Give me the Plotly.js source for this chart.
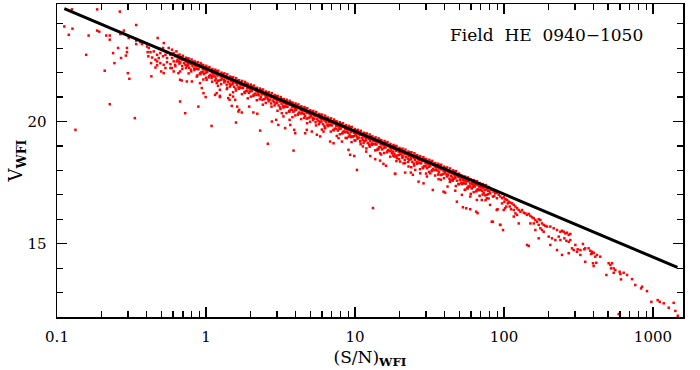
<!DOCTYPE html>
<html>
<head>
<meta charset="utf-8">
<script src="https://cdn.plot.ly/plotly-3.0.1.min.js"></script>
<style>html,body{margin:0;padding:0;background:#fff;}#chart{width:700px;height:370px;}</style>
</head>
<body>
<div id="chart"></div>
<script>
// ---- data (S/N, V magnitude) ----
const faintSN = [0.126,0.186,0.264,0.340,0.112,0.127,0.120,0.163,0.186,0.192,0.214,0.226,0.226,0.281,0.266,0.303,0.340,0.340,0.363,0.372,0.402,0.413,0.474,0.521,0.257,0.295,0.295,0.290,0.238,0.269,0.243,0.157,0.209,0.299,0.306,0.226,0.333,0.133,
  0.406,0.424,0.446,0.470,0.494,0.41,0.435,0.458,0.482,0.515,0.534,0.548,0.577,0.592,0.607,0.623,0.470,0.494,0.52,0.548,0.577,0.607,0.623,0.428,0.458,0.50,0.534,0.577,0.607,0.43,0.470,0.52,0.562,0.592,0.633,0.515,0.489,0.548];
const faintV = [24.59,24.59,24.50,23.95,23.89,23.80,23.55,23.52,23.72,23.68,23.52,23.52,23.35,23.72,23.58,23.42,23.31,23.17,23.25,23.17,23.07,23.01,23.42,23.21,23.01,23.01,22.84,22.70,22.80,22.60,22.39,22.73,22.08,21.98,21.75,20.71,20.14,19.66,
  22.84,22.84,22.87,22.73,22.80,22.67,22.62,22.53,22.60,22.67,22.73,22.60,22.73,22.60,22.80,22.67,22.46,22.39,22.32,22.43,22.35,22.46,22.26,22.39,22.21,22.05,22.19,22.19,22.05,21.85,22.30,21.98,23.01,22.94,22.87,23.01,22.98,22.83];

const bandSN = [0.65,0.658,0.644,0.663,0.68,0.688,0.673,0.694,0.72,0.729,0.713,0.734,0.75,0.759,0.743,0.765,0.78,0.789,0.772,0.796,
  0.82,0.83,0.812,0.836,0.86,0.87,0.851,0.877,0.90,0.911,0.891,0.918,0.94,0.951,0.931,0.959,0.98,0.992,0.97,1.0,
  1.03,1.042,1.02,1.05,1.08,1.093,1.069,1.10,1.13,1.144,1.119,1.153,1.18,1.194,1.168,1.204,1.24,1.255,1.228,1.265,
  1.30,1.316,1.287,1.326,1.36,1.376,1.346,1.387,1.42,1.437,1.406,1.448,1.49,1.508,1.475,1.52,1.56,1.579,1.544,1.591,
  1.63,1.65,1.614,1.663,1.71,1.731,1.693,1.744,1.79,1.811,1.772,1.826,1.87,1.892,1.851,1.907,1.96,1.984,1.94,1.999,
  2.05,2.075,2.03,2.091,2.15,2.176,2.129,2.193,2.25,2.277,2.228,2.295,2.36,2.388,2.336,2.407,2.47,2.5,2.445,2.519,
  2.58,2.611,2.554,2.632,2.70,2.732,2.673,2.754,2.83,2.864,2.802,2.887,2.96,2.996,2.93,3.019,3.10,3.137,3.069,3.162,
  3.25,3.289,3.218,3.315,3.40,3.441,3.366,3.468,3.56,3.603,3.524,3.631,3.73,3.775,3.693,3.805,3.90,3.947,3.861,3.978,
  4.08,4.129,4.039,4.162,4.27,4.321,4.227,4.355,4.47,4.524,4.425,4.559,4.68,4.736,4.633,4.774,4.90,4.959,4.851,4.998,
  5.13,5.192,5.079,5.233,5.37,5.434,5.316,5.477,5.62,5.687,5.564,5.732,5.88,5.951,5.821,5.998,6.16,6.234,6.098,6.283,
  6.45,6.527,6.386,6.579,6.75,6.831,6.683,6.885,7.07,7.155,6.999,7.211,7.40,7.489,7.326,7.548,7.75,7.843,7.673,7.905,
  8.11,8.207,8.029,8.272,8.49,8.592,8.405,8.66,8.89,8.997,8.801,9.068,9.30,9.412,9.207,9.486,9.74,9.857,9.643,9.935,
  10.2,10.32,10.1,10.4,10.7,10.83,10.59,10.91,11.2,11.33,11.09,11.42,11.7,11.84,11.58,11.93,12.3,12.45,12.18,12.55,
  12.8,12.95,12.67,13.06,13.4,13.56,13.27,13.67,14.1,14.27,13.96,14.38,14.7,14.88,14.55,14.99,15.4,15.58,15.25,15.71,
  16.2,16.39,16.04,16.52,16.9,17.1,16.73,17.24,17.7,17.91,17.52,18.05,18.6,18.82,18.41,18.97,19.4,19.63,19.21,19.79,
  20.4,20.64,20.2,20.81,21.3,21.56,21.09,21.73,22.3,22.57,22.08,22.75,23.4,23.68,23.17,23.87,24.5,24.79,24.26,24.99,
  25.6,25.91,25.34,26.11,26.8,27.12,26.53,27.34,28.1,28.44,27.82,28.66,29.4,29.75,29.11,29.99,30.8,31.17,30.49,31.42,
  32.3,32.69,31.98,32.95,33.8,34.21,33.46,34.48,35.4,35.82,35.05,36.11,37.0,37.44,36.63,37.74,38.8,39.27,38.41,39.58,
  40.6,41.09,40.19,41.41,42.5,43.01,42.08,43.35,44.5,45.03,44.06,45.39,46.6,47.16,46.13,47.53,48.8,49.39,48.31,49.78,
  51.1,51.71,50.59,52.12,53.5,54.14,52.97,54.57,56.0,56.67,55.44,57.12,58.7,59.4,58.11,59.87,61.4,62.14,60.79,62.63,
  64.3,65.07,63.66,65.59,67.3,68.11,66.63,68.65,70.5,71.35,69.8,71.91,73.8,74.69,73.06,75.28,77.3,78.23,76.53,78.85];
const bandV = [22.71,22.62,22.53,22.37,22.63,22.53,22.42,22.15,22.54,22.49,22.39,22.19,22.57,22.39,22.27,21.97,22.43,22.36,22.20,22.05,
  22.45,22.36,22.27,22.11,22.37,22.27,22.16,21.89,22.29,22.24,22.14,21.94,22.32,22.14,22.02,21.72,22.17,22.10,21.94,21.79,
  22.20,22.11,22.02,21.86,22.11,22.01,21.90,21.63,22.03,21.98,21.88,21.68,22.06,21.88,21.76,21.46,21.91,21.84,21.68,21.53,
  21.94,21.85,21.76,21.60,21.86,21.76,21.65,21.38,21.78,21.73,21.63,21.43,21.80,21.62,21.50,21.20,21.65,21.58,21.42,21.27,
  21.68,21.59,21.50,21.34,21.60,21.50,21.39,21.12,21.52,21.47,21.37,21.17,21.55,21.37,21.25,20.95,21.40,21.33,21.17,21.02,
  21.43,21.34,21.25,21.09,21.35,21.25,21.14,20.87,21.26,21.21,21.11,20.91,21.29,21.11,20.99,20.69,21.14,21.07,20.91,20.76,
  21.17,21.08,20.99,20.83,21.09,20.99,20.88,20.61,21.01,20.96,20.86,20.66,21.04,20.86,20.74,20.44,20.89,20.82,20.66,20.51,
  20.91,20.82,20.73,20.57,20.83,20.73,20.62,20.35,20.75,20.70,20.60,20.40,20.78,20.60,20.48,20.18,20.63,20.56,20.40,20.25,
  20.66,20.57,20.48,20.32,20.58,20.48,20.37,20.10,20.50,20.45,20.35,20.15,20.53,20.35,20.23,19.93,20.37,20.30,20.14,19.99,
  20.40,20.31,20.22,20.06,20.32,20.22,20.11,19.84,20.24,20.19,20.09,19.89,20.27,20.09,19.97,19.67,20.12,20.05,19.89,19.74,
  20.15,20.06,19.97,19.81,20.07,19.97,19.86,19.59,19.99,19.94,19.84,19.64,20.01,19.83,19.71,19.41,19.86,19.79,19.63,19.48,
  19.89,19.80,19.71,19.55,19.81,19.71,19.60,19.33,19.73,19.68,19.58,19.38,19.76,19.58,19.46,19.16,19.61,19.54,19.38,19.23,
  19.63,19.54,19.45,19.29,19.55,19.45,19.34,19.07,19.47,19.42,19.32,19.12,19.50,19.32,19.20,18.90,19.35,19.28,19.12,18.97,
  19.38,19.29,19.20,19.04,19.30,19.20,19.09,18.82,19.21,19.16,19.06,18.86,19.25,19.07,18.95,18.65,19.09,19.02,18.86,18.71,
  19.12,19.03,18.94,18.78,19.04,18.94,18.83,18.56,18.96,18.91,18.81,18.61,18.98,18.80,18.68,18.38,18.84,18.77,18.61,18.46,
  18.86,18.77,18.68,18.52,18.78,18.68,18.57,18.30,18.70,18.65,18.55,18.35,18.73,18.55,18.43,18.13,18.58,18.51,18.35,18.20,
  18.61,18.52,18.43,18.27,18.53,18.43,18.32,18.05,18.44,18.39,18.29,18.09,18.47,18.29,18.17,17.87,18.32,18.25,18.09,17.94,
  18.35,18.26,18.17,18.01,18.27,18.17,18.06,17.79,18.18,18.13,18.03,17.83,18.22,18.04,17.92,17.62,18.06,17.99,17.83,17.68,
  18.09,18.00,17.91,17.75,18.01,17.91,17.80,17.53,17.93,17.88,17.78,17.58,17.96,17.78,17.66,17.36,17.81,17.74,17.58,17.43,
  17.78,17.69,17.60,17.44,17.69,17.59,17.48,17.21,17.61,17.56,17.46,17.26,17.64,17.46,17.34,17.04,17.49,17.42,17.26,17.11,
  17.52,17.43,17.34,17.18,17.44,17.34,17.23,16.96,17.36,17.31,17.21,17.01,17.38,17.20,17.08,16.78,17.23,17.16,17.00,16.85];

// extra band stars between the positions above (incl. the thin fringe above the line)
const band2SN = [0.665,0.672,0.658,0.70,0.707,0.693,0.735,0.742,0.728,0.765,0.773,0.757,0.80,0.808,0.792,0.84,0.848,0.832,0.88,0.889,0.871,0.92,0.929,0.911,0.96,0.97,0.95,
  1.005,1.015,0.995,1.055,1.066,1.044,1.105,1.116,1.094,1.155,1.167,1.143,1.21,1.222,1.198,1.27,1.283,1.257,1.33,1.343,1.317,1.39,1.404,1.376,1.455,1.47,1.44,1.525,1.54,1.51,
  1.595,1.611,1.579,1.67,1.687,1.653,1.75,1.768,1.733,1.83,1.848,1.812,1.915,1.934,1.896,2.0,2.02,1.98,2.10,2.121,2.079,2.20,2.222,2.178,2.305,2.328,2.282,2.415,2.439,2.391,
  2.525,2.55,2.5,2.64,2.666,2.614,2.765,2.793,2.737,2.895,2.924,2.866,3.03,3.06,3.0,3.175,3.207,3.143,3.325,3.358,3.292,3.48,3.515,3.445,3.645,3.681,3.609,3.815,3.853,3.777,
  3.99,4.03,3.95,4.175,4.217,4.133,4.37,4.414,4.326,4.575,4.621,4.529,4.79,4.838,4.742,5.015,5.065,4.965,5.25,5.303,5.198,5.495,5.55,5.44,5.75,5.808,5.693,6.02,6.08,5.96,
  6.305,6.368,6.242,6.60,6.666,6.534,6.91,6.979,6.841,7.235,7.307,7.163,7.575,7.651,7.499,7.93,8.009,7.851,8.30,8.383,8.217,8.69,8.777,8.603,9.095,9.186,9.004,9.52,9.615,9.425,
  9.97,10.07,9.87,10.45,10.55,10.35,10.95,11.06,10.84,11.45,11.56,11.34,12.0,12.12,11.88,12.55,12.68,12.42,13.1,13.23,12.97,13.75,13.89,13.61,14.4,14.54,14.26,15.05,15.2,14.9,
  15.8,15.96,15.64,16.55,16.72,16.38,17.3,17.47,17.13,18.15,18.33,17.97,19.0,19.19,18.81,19.9,20.1,19.7,20.85,21.06,20.64,21.8,22.02,21.58,22.85,23.08,22.62,23.95,24.19,23.71,
  25.05,25.3,24.8,26.2,26.46,25.94,27.45,27.72,27.18,28.75,29.04,28.46,30.1,30.4,29.8,31.55,31.87,31.23,33.05,33.38,32.72,34.6,34.95,34.25,36.2,36.56,35.84,37.9,38.28,37.52,
  39.7,40.1,39.3,41.55,41.97,41.13,43.5,43.94,43.07,45.55,46.01,45.09,47.7,48.18,47.22,49.95,50.45,49.45,52.3,52.82,51.78,54.75,55.3,54.2,57.35,57.92,56.78,60.05,60.65,59.45,
  62.85,63.48,62.22,65.8,66.46,65.14,68.9,69.59,68.21,72.15,72.87,71.43,75.55,76.31,74.79,79.1,79.89,78.31];
const band2V = [22.74,22.57,22.46,22.69,22.53,22.27,22.61,22.44,22.32,22.58,22.41,22.30,22.54,22.38,22.12,22.46,22.29,22.17,22.43,22.26,22.15,22.39,22.23,21.97,22.31,22.14,22.02,
  22.28,22.11,22.00,22.23,22.07,21.81,22.15,21.98,21.86,22.12,21.95,21.84,22.08,21.92,21.66,22.00,21.83,21.71,21.97,21.80,21.69,21.93,21.77,21.51,21.84,21.67,21.55,21.81,21.64,21.53,
  21.77,21.61,21.35,21.69,21.52,21.40,21.66,21.49,21.38,21.62,21.46,21.20,21.54,21.37,21.25,21.51,21.34,21.23,21.47,21.31,21.05,21.38,21.21,21.09,21.35,21.18,21.07,21.31,21.15,20.89,
  21.23,21.06,20.94,21.20,21.03,20.92,21.16,21.00,20.74,21.08,20.91,20.79,21.05,20.88,20.77,21.00,20.84,20.58,20.92,20.75,20.63,20.89,20.72,20.61,20.85,20.69,20.43,20.77,20.60,20.48,
  20.74,20.57,20.46,20.70,20.54,20.28,20.62,20.45,20.33,20.59,20.42,20.31,20.54,20.38,20.12,20.46,20.29,20.17,20.43,20.26,20.15,20.39,20.23,19.97,20.31,20.14,20.02,20.28,20.11,20.00,
  20.24,20.08,19.82,20.16,19.99,19.87,20.13,19.96,19.85,20.08,19.92,19.66,20.00,19.83,19.71,19.97,19.80,19.69,19.93,19.77,19.51,19.85,19.68,19.56,19.82,19.65,19.54,19.78,19.62,19.36,
  19.69,19.52,19.40,19.66,19.49,19.38,19.62,19.46,19.20,19.54,19.37,19.25,19.51,19.34,19.23,19.47,19.31,19.05,19.39,19.22,19.10,19.35,19.18,19.07,19.31,19.15,18.89,19.23,19.06,18.94,
  19.20,19.03,18.92,19.16,19.00,18.74,19.08,18.91,18.79,19.04,18.87,18.76,19.00,18.84,18.58,18.92,18.75,18.63,18.89,18.72,18.61,18.85,18.69,18.43,18.77,18.60,18.48,18.74,18.57,18.46,
  18.70,18.54,18.28,18.62,18.45,18.33,18.58,18.41,18.30,18.54,18.38,18.12,18.46,18.29,18.17,18.43,18.26,18.15,18.39,18.23,17.97,18.30,18.13,18.01,18.27,18.10,17.99,18.23,18.07,17.81,
  18.15,17.98,17.86,18.12,17.95,17.84,18.08,17.92,17.66,18.00,17.83,17.71,17.97,17.80,17.69,17.87,17.71,17.45,17.78,17.61,17.49,17.75,17.58,17.47,17.71,17.55,17.29,17.63,17.46,17.34,
  17.60,17.43,17.32,17.56,17.40,17.14,17.48,17.31,17.19,17.44,17.27,17.16,17.40,17.24,16.98,17.32,17.15,17.03];

const midSN = [0.670,0.867,0.912,1.01,1.09,1.18,1.24,1.38,1.45,1.52,1.57,1.62,1.67,0.995,1.24,1.41,
  0.670,0.725,0.889,1.09,1.59,2.31,2.60,2.77,2.96,3.06,3.40,1.74,1.65,2.21,2.08,1.95,1.49,1.44,1.24,1.18,1.15,0.937,0.962,0.804,0.744,0.688,0.653,0.670,0.589,0.620,0.636,
  3.87,10.31,18.57,9.05,9.28,9.89,11.30,11.90,12.66,13.67,14.74,15.52,16.16,14.74,14.03,12.53,10.85,10.05,8.82,8.18,7.18,6.81,5.84,5.55,5.13,4.75,4.63,3.97,3.91,3.68,3.64,3.31,3.23,6.31,6.15,7.76,9.53,13.2,
  18.61,21.73,23.72,24.46,26.71,28.85,33.3,39.3,40.3,41.8,47.1,48.3,52.2,53.0,55.8,59.4,65.1,66.5,82.8,94.1,89.4,101.7,80.7,71.0,76.7,65.8,59.4,57.9,55.0,44.7,43.6,36.4,32.0,30.39,27.41,25.38,22.88,21.17,20.11,19.09,18.34,17.68];
const midV = [21.71,21.84,21.57,21.71,21.78,21.57,21.30,21.33,21.09,21.02,20.89,20.61,20.48,21.00,21.00,20.96,
  20.82,20.34,20.61,19.82,19.96,19.63,19.09,20.00,20.07,19.86,19.73,20.37,20.41,20.32,20.37,20.61,20.64,20.89,21.05,21.16,21.09,21.37,21.16,21.64,21.64,21.68,21.98,22.05,22.19,22.32,22.46,
  18.81,18.02,17.86,18.84,18.64,18.59,18.98,18.77,18.59,18.46,18.40,18.27,18.19,18.70,18.84,19.05,19.18,19.22,19.32,19.18,19.11,19.18,19.39,19.46,19.59,19.66,19.52,19.52,19.66,19.86,20.07,20.21,20.34,19.73,19.59,19.32,19.39,16.46,
  17.86,17.91,17.91,17.82,17.54,17.47,17.20,17.13,17.09,17.34,17.17,16.72,17.00,16.49,16.45,16.41,16.31,16.25,15.90,15.77,16.38,16.45,16.59,16.79,16.86,16.79,16.93,17.34,17.20,17.61,17.58,17.64,17.88,17.75,17.88,18.02,18.16,18.29,18.36,18.50,18.57,18.70];

const brightSN = [83.0,85.1,87.4,89.7,92.2,86.0,94.6,97.1,99.6,102.2,104.9,107.6,110.4,113.3,116.3,100.7,106.0,109.3,89.7,84.2,80.9,97.1,103.8,111.5,116.3,119.3,122.4,125.6,128.9,132.2,135.7,139.2,142.9,146.6,150.4,154.3,158.4,162.5,166.7,171.1,175.5,180.1,184.8,171.1,175.5,189.6,194.6,204.8,215.7,227.1,239.1,245.3,251.7,258.3,265.0,271.9,279.0,254.3,262.3,271.9,279.0,233.0,239.1,221.3,210.2,204.8,227.1,245.3,271.9,286.3,301.4,293.8,309.3,325.6,142.9,146.6,171.1,119.3,122.4,116.3,99.6,90.6,84.2,94.6,98.6,125.6,150.4,158.4,162.5,180.1,184.8,199.6,326.0,312.5,
  339,346,351,370,380,390,396,384,400,410,421,443,417,396,351,400,504,518,531,545,523,559,545,487,598,604,636,670,610,724,761,832,845,912,976,1076,1111,1181,1276,1378,1414,1467,589];
const brightV = [17.20,17.13,17.06,17.09,17.00,16.95,16.93,16.86,16.90,16.82,16.79,16.72,16.68,16.65,16.59,16.72,16.65,16.52,16.86,16.93,17.06,16.65,16.52,16.41,16.38,16.52,16.45,16.38,16.31,16.38,16.27,16.24,16.18,16.22,16.14,16.08,16.04,15.97,15.90,16.00,15.97,15.83,15.77,15.77,15.63,15.73,15.70,15.70,15.63,15.56,15.49,15.53,15.49,15.42,15.45,15.36,15.40,15.22,15.12,15.08,15.15,15.29,15.15,15.15,15.22,14.95,14.74,14.54,14.61,14.81,14.95,14.74,14.67,14.54,14.95,14.91,15.22,16.24,16.18,16.11,16.38,16.41,15.90,15.77,15.56,15.83,15.83,15.83,15.56,15.56,15.49,15.29,14.74,14.77,
  14.99,14.77,14.81,14.81,14.71,14.67,14.61,14.58,14.63,14.47,14.54,14.47,14.22,14.20,14.26,14.09,14.20,14.13,14.20,13.99,13.99,13.92,13.81,13.72,13.85,13.76,13.81,13.72,13.54,13.55,13.31,13.17,13.24,13.06,12.62,12.69,12.62,12.56,12.38,12.58,12.25,12.05,12.12];

// black reference line (end points)
const lineSN = [0.112, 1460];
const lineV = [24.62, 14.03];

// axis ticks
const xTickVals = [0.1, 1, 10, 100, 1000];
const xTickText = ['0.1', '1', '10', '100', '1000'];
const xMinorVals = [0.2,0.3,0.4,0.5,0.6,0.7,0.8,0.9,2,3,4,5,6,7,8,9,20,30,40,50,60,70,80,90,200,300,400,500,600,700,800,900];
const yTickVals = [15, 20];
const yTickText = ['15', '20'];
const yMinorVals = [13,14,16,17,18,19,21,22,23,24];

const allSN = faintSN.concat(bandSN, band2SN, midSN, brightSN);
const allV = faintV.concat(bandV, band2V, midV, brightV);

const FONT = 'DejaVu Serif, Liberation Serif, serif';
const xRange = [-1, Math.log10(1591)];
const yRange = [12.0, 24.81];

const traces = [
  {x: allSN, y: allV, type: 'scatter', mode: 'markers',
   marker: {symbol: 'square', size: 2.5, color: '#ff0000', line: {width: 0}}, hoverinfo: 'skip'},
  {x: lineSN, y: lineV, type: 'scatter', mode: 'lines',
   line: {color: '#000000', width: 3}, hoverinfo: 'skip'},
  {x: [1], y: [20], xaxis: 'x2', yaxis: 'y2', type: 'scatter', mode: 'markers',
   marker: {opacity: 0}, hoverinfo: 'skip'}
];

const baseAxis = {
  showgrid: false, zeroline: false, ticks: 'inside', tickcolor: '#000', tickwidth: 1.2,
  mirror: 'ticks', showline: true, linecolor: '#000', linewidth: 1.5
};

const layout = {
  width: 700, height: 370,
  margin: {l: 57, r: 17, t: 4, b: 53, pad: 0},
  paper_bgcolor: '#fff', plot_bgcolor: '#fff',
  showlegend: false,
  font: {family: FONT, color: '#000'},
  xaxis: Object.assign({}, baseAxis, {
    type: 'log', range: xRange, tickmode: 'array', tickvals: xTickVals, ticktext: xTickText,
    ticklen: 10, tickfont: {family: FONT, size: 15, color: '#000'}, ticklabelstandoff: 5,
    title: {text: '(S/N)<sub><b>WFI</b></sub>', font: {family: FONT, size: 17, color: '#000'}, standoff: 6}
  }),
  yaxis: Object.assign({}, baseAxis, {
    range: yRange, tickmode: 'array', tickvals: yTickVals, ticktext: yTickText,
    ticklen: 10, tickfont: {family: FONT, size: 15, color: '#000'}, ticklabelstandoff: 6,
    title: {text: 'V<sub><b>WFI</b></sub>', font: {family: FONT, size: 18, color: '#000'}, standoff: 0}
  }),
  xaxis2: {
    overlaying: 'x', anchor: 'y', side: 'bottom', type: 'log', range: xRange,
    tickmode: 'array', tickvals: xMinorVals, ticks: 'inside', ticklen: 6, tickwidth: 1.2, tickcolor: '#000',
    showticklabels: false, showgrid: false, zeroline: false, showline: false, mirror: 'ticks'
  },
  yaxis2: {
    overlaying: 'y', anchor: 'x', side: 'left', range: yRange,
    tickmode: 'array', tickvals: yMinorVals, ticks: 'inside', ticklen: 6, tickwidth: 1.2, tickcolor: '#000',
    showticklabels: false, showgrid: false, zeroline: false, showline: false, mirror: 'ticks'
  },
  annotations: [{
    xref: 'paper', yref: 'paper', x: 0.625, y: 0.90, xanchor: 'left', yanchor: 'middle',
    text: 'Field\u00a0\u00a0HE\u00a0\u00a00940\u22121050', showarrow: false,
    font: {family: FONT, size: 17, color: '#000'}
  }]
};

Plotly.newPlot('chart', traces, layout, {displayModeBar: false, staticPlot: true});
</script>
</body>
</html>
